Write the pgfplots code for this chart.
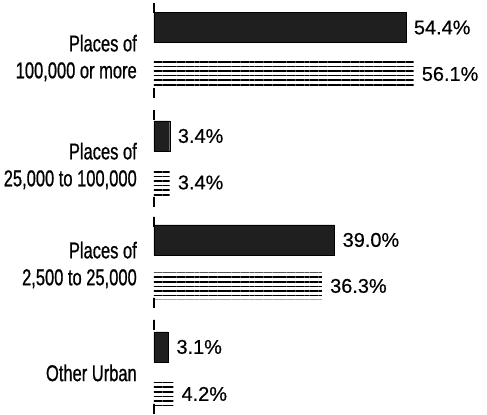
\documentclass[border=0pt]{standalone}
\usepackage{fontspec}
\setmainfont{Liberation Sans}
\newfontfamily\condensed[FakeStretch=0.72,FakeBold=0.8]{Liberation Sans}
\newfontfamily\valuefont[FakeBold=0.5]{Liberation Sans}
\usepackage{pgfplots}
\pgfplotsset{compat=1.18}
\usetikzlibrary{patterns.meta}
\begin{document}
\begin{tikzpicture}
\begin{axis}[
  scale only axis,
  width=324.1bp, height=409bp,
  xmin=0, xmax=70,
  ymin=0, ymax=409,
  y dir=reverse,
  clip=false,
  axis line style={draw=none,-},
  xtick=\empty,
  ytick={58,166,265,373},
  yticklabels={{Places of\\100,000 or more},{Places of\\25,000 to 100,000},{Places of\\2,500 to 25,000},{Other Urban}},
  major tick length=0pt,
  tick style={draw=none},
  yticklabel style={font=\condensed\fontsize{23}{27}\selectfont, align=right, inner sep=0pt, xshift=-17bp},
  xbar, bar shift=0pt,
  point meta=x,
  /pgf/number format/assume math mode=true,
  nodes near coords={\pgfmathprintnumber[fixed,fixed zerofill,precision=1]{\pgfplotspointmeta}\%},
  nodes near coords style={anchor=west, inner sep=0pt, xshift=8bp, font=\valuefont\fontsize{20}{21}\selectfont},
]
% black (stippled) bars
\addplot[fill=black!88, draw=black, bar width=30bp] coordinates {
  (54.4,27.5) (3.4,136) (39.0,240) (3.1,347)
};
% striped bars
\addplot[draw=none, pattern={Lines[angle=0,distance=4.6pt,line width=1.5pt]}, bar width=27bp] coordinates {
  (56.1,74) (3.4,182.5) (36.3,286) (4.2,394)
};
% vertical axis segments
\addplot[black, line width=1.6pt, no markers, nodes near coords={}, forget plot] coordinates {(0,8) (0,93)};
\addplot[black, line width=1.6pt, no markers, nodes near coords={}, forget plot] coordinates {(0,115) (0,202)};
\addplot[black, line width=1.6pt, no markers, nodes near coords={}, forget plot] coordinates {(0,222) (0,303)};
\addplot[black, line width=1.6pt, no markers, nodes near coords={}, forget plot] coordinates {(0,325) (0,409)};
\path ([xshift=-154bp]rel axis cs:0,0) rectangle ([xshift=9bp]rel axis cs:1,1);
\end{axis}
\end{tikzpicture}
\end{document}
